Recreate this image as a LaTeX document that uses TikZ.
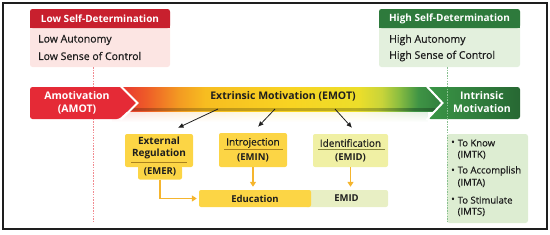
\documentclass[tikz,border=0pt]{standalone}
\usepackage{fontspec}
\setmainfont{Open Sans}
\newfontfamily\semifont{Open Sans}[FakeBold=0.6]
\usetikzlibrary{arrows.meta,calc,fadings}
\definecolor{sdred}{RGB}{200,32,46}
\definecolor{sdpink}{RGB}{252,229,227}
\definecolor{sdgreen}{RGB}{46,122,60}
\definecolor{sdmint}{RGB}{227,240,221}
\definecolor{amred}{RGB}{229,42,54}
\definecolor{imgreen}{RGB}{58,150,70}
\definecolor{barflame}{RGB}{238,90,40}
\definecolor{barorange}{RGB}{243,154,34}
\definecolor{baramber}{RGB}{247,189,32}
\definecolor{baryellow}{RGB}{248,212,34}
\definecolor{barlemon}{RGB}{236,222,42}
\definecolor{barlime}{RGB}{200,212,58}
\definecolor{barleaf}{RGB}{140,190,64}
\definecolor{barfern}{RGB}{63,148,69}
\definecolor{regyellow}{RGB}{252,213,69}
\definecolor{idyellow}{RGB}{240,240,164}
\definecolor{emidpale}{RGB}{232,239,196}
\definecolor{flowgold}{RGB}{245,181,46}
\definecolor{rulegold}{RGB}{170,130,30}
\definecolor{ruleolive}{RGB}{130,130,60}
\definecolor{listgreen}{RGB}{221,237,210}
\definecolor{inkgray}{RGB}{30,30,30}
\colorlet{palered}{amred!18}
\colorlet{paleorange}{barorange!18}
\colorlet{paleyellow}{baryellow!16}
\colorlet{palegreen}{imgreen!18}

\pgfdeclarehorizontalshading{emotbar}{100bp}{%
  color(0bp)=(amred); color(25bp)=(amred); color(30bp)=(barflame);
  color(35bp)=(barorange); color(39bp)=(baramber); color(52bp)=(baryellow);
  color(62bp)=(barlemon); color(65.5bp)=(barlime); color(68bp)=(barleaf);
  color(71bp)=(barfern); color(75bp)=(sdgreen); color(100bp)=(sdgreen)}
\pgfdeclarehorizontalshading{emotpale}{100bp}{%
  color(0bp)=(palered); color(25bp)=(palered); color(36bp)=(paleorange);
  color(50bp)=(paleyellow); color(64bp)=(paleyellow); color(75bp)=(palegreen);
  color(100bp)=(palegreen)}

\begin{document}
\begin{tikzpicture}[x=1pt,y=-1pt,>=Latex,
  hdtext/.style={text=white,font=\bfseries\fontsize{10}{12}\selectfont,inner sep=0pt},
  bodytext/.style={text=inkgray,font=\semifont\fontsize{10.5}{12}\selectfont,anchor=west,inner sep=0pt},
  bartext/.style={font=\bfseries\fontsize{10.5}{13}\selectfont,align=center,inner sep=0pt},
  boxtext/.style={text=inkgray,font=\semifont\fontsize{10}{12}\selectfont,align=center,inner sep=0pt},
  codetext/.style={text=inkgray,font=\bfseries\fontsize{9.5}{11}\selectfont,inner sep=0pt},
  stagebox/.style={rounded corners=2pt,inner sep=0pt},
  linkarrow/.style={->,draw=inkgray,line width=0.8pt,>={Latex[length=5.5pt,width=5pt]}},
  flowarrow/.style={->,draw=flowgold,line width=1.3pt,>={Triangle[length=5pt,width=6pt]}},
  divider/.style={line width=1pt,dash pattern=on 1.5pt off 1.2pt},
  listtext/.style={text=inkgray,font=\semifont\fontsize{9.5}{11}\selectfont,anchor=west,inner sep=0pt}]
  \useasboundingbox (0,0) rectangle (550,234);
  \draw[line width=1.6pt,inkgray] (3,3) rectangle (547,229);

  % self-determination panels
  \fill[sdpink,rounded corners=2.5pt] (30,9) rectangle (170,67);
  \fill[sdred,rounded corners=2.5pt] (30,9) rectangle (170,28);
  \fill[sdred] (30,24) rectangle (170,28);
  \node[hdtext] (lowhead) at (100,18.5) {Low Self-Determination};
  \node[bodytext] (lowaut) at (38,40) {Low Autonomy};
  \node[bodytext] (lowctl) at (38,56) {Low Sense of Control};

  \fill[sdmint,rounded corners=2.5pt] (379,9) rectangle (520,67);
  \fill[sdgreen,rounded corners=2.5pt] (379,9) rectangle (520,28);
  \fill[sdgreen] (379,24) rectangle (520,28);
  \node[hdtext] (highhead) at (449.5,18.5) {High Self-Determination};
  \node[bodytext] (highaut) at (389,40) {High Autonomy};
  \node[bodytext] (highctl) at (389,56) {High Sense of Control};

  \draw[divider,draw=amred!55] (93,67) -- (93,223);

  % continuum bar
  \shade[shading=emotpale,path fading=south] (112,110) rectangle (428,122);
  \shade[shading=emotbar] (112,106) rectangle (440,111);
  \fill[black,opacity=.22] (112,106.5) rectangle (440,111);
  \shade[shading=emotbar] (112,87) rectangle (445,107);
  \fill[amred,rounded corners=2.5pt] (30,87) -- (119,87) -- (136,103) -- (119,119) -- (30,119) -- cycle;
  \shade[left color=imgreen,right color=sdgreen!85!black,rounded corners=2.5pt]
    (428,87) -- (520,87) -- (520,119) -- (428,119) -- (444,103) -- cycle;
  \draw[white,line width=2pt] (120.5,86) -- (137.5,103) -- (120.5,120);
  \draw[white,line width=2pt] (426.5,86) -- (442.5,103) -- (426.5,120);
  \node[bartext,text=white] (amot) at (77,102.5) {Amotivation\\(AMOT)};
  \node[bartext,text=white] (imot) at (482,102.5) {Intrinsic\\Motivation};
  \node[bartext,text=inkgray] (emot) at (283,96) {Extrinsic Motivation (EMOT)};

  % extrinsic stages
  \node[stagebox,fill=regyellow,minimum width=44,minimum height=14] (emertab) at (160,172.5) {};
  \node[stagebox,fill=regyellow,minimum width=68,minimum height=33] (emerbox) at (159,150.5) {};
  \node[boxtext,font=\bfseries\fontsize{10}{12}\selectfont] (emertxt) at (159,148) {External\\Regulation};
  \draw[rulegold,line width=0.5pt] (131,162) -- (187,162);
  \node[codetext] (emercode) at (160,172) {(EMER)};

  \node[stagebox,fill=regyellow,minimum width=68,minimum height=34] (eminbox) at (253,150) {};
  \node[boxtext] (emintxt) at (253,143) {Introjection};
  \draw[rulegold,line width=0.5pt] (224,149) -- (283,149);
  \node[codetext] (emincode) at (253,157.5) {(EMIN)};

  \node[stagebox,fill=idyellow,minimum width=75,minimum height=33] (emidbox) at (350.5,150.5) {};
  \node[boxtext] (emidtxt) at (350.5,143) {Identification};
  \draw[ruleolive,line width=0.5pt] (318,149) -- (385,149);
  \node[codetext] (emidcode) at (350.5,158) {(EMID)};

  \node[stagebox,fill=emidpale,minimum width=83,minimum height=17,codetext] (midbox) at (346.5,198.5) {EMID};
  \node[stagebox,fill=regyellow,minimum width=112,minimum height=17,codetext] (edubox) at (255,198.5) {Education};

  \coordinate (emotA) at (218,109);
  \coordinate (emotB) at (275,109);
  \coordinate (emotC) at (335,109);
  \draw[linkarrow] (emotA) -- ($(emerbox.north)+(19,-6)$);
  \draw[linkarrow] (emotB) -- ($(eminbox.north)+(5,-6)$);
  \draw[linkarrow] (emotC) -- ($(emidbox.north)+(1.5,-6)$);
  \draw[flowarrow,shorten >=3pt] (eminbox.south) -- (eminbox.south |- edubox.north);
  \draw[flowarrow,shorten >=3pt] (emidbox.south) -- (emidbox.south |- midbox.north);
  \draw[flowarrow,shorten >=2pt] (emertab.south) |- (edubox.west);

  % intrinsic list
  \fill[listgreen,rounded corners=2.5pt] (447,134) rectangle (528,223);
  \draw[divider,draw=imgreen!60] (447,67) -- (447,223);
  \foreach \y/\txt/\code/\nm in {143/To Know/IMTK/imtk,171/To Accomplish/IMTA/imta,200/To Stimulate/IMTS/imts}{
    \node[listtext] (\nm dot) at (451,\y) {\textbullet};
    \node[listtext] (\nm) at (457.5,\y) {\txt};
    \node[listtext] (\nm code) at (457.5,\y+12) {(\code)};
  }
\end{tikzpicture}
\end{document}
